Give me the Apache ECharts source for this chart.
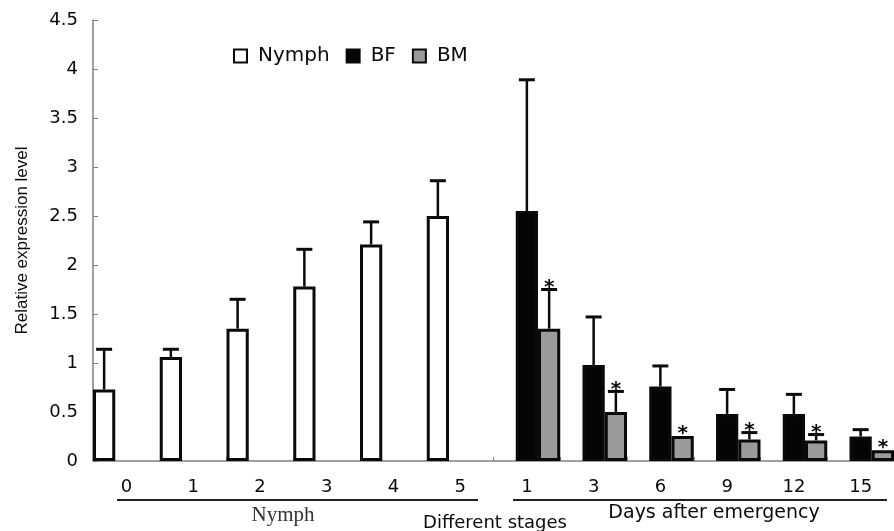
<!DOCTYPE html>
<html>
<head>
<meta charset="utf-8">
<title>Relative expression level</title>
<script src="https://cdn.jsdelivr.net/npm/echarts@6/dist/echarts.min.js"></script>
<style>
  html, body { margin: 0; padding: 0; background: #fff; }
  #chart { width: 894px; height: 531px; }
</style>
</head>
<body>
<div id="chart"></div>
<script>
// x axis labels: nymph stages, then days after emergency
var nymphStages = ['0', '1', '2', '3', '4', '5'];
var adultDays = ['1', '3', '6', '9', '12', '15'];
var categories = nymphStages.concat(adultDays);

// mean relative expression
var nymphMean = [0.73, 1.06, 1.35, 1.78, 2.21, 2.50];
var bfMean = [2.55, 0.98, 0.76, 0.48, 0.48, 0.25];
var bmMean = [1.35, 0.50, 0.255, 0.22, 0.21, 0.11];
// upper error bars (SD)
var nymphSd = [0.41, 0.08, 0.30, 0.38, 0.23, 0.36];
var bfSd = [1.34, 0.49, 0.21, 0.25, 0.20, 0.07];
var bmSd = [0.40, 0.21, 0, 0.07, 0.06, 0];
// * marks (BM vs BF)
var bmStar = [1, 1, 1, 1, 1, 1];

var yMax = 4.5;
var yStep = 0.5;

var sans = '"DejaVu Sans", sans-serif';
var ink = '#0a0a0a';

function blanks(n) {
  var a = [];
  for (var i = 0; i < n; i++) a.push('-');
  return a;
}

// error bar + star, slot = position of the bar inside the category (0,1,2)
function errorSeries(means, sds, stars, start, slot) {
  var data = [];
  for (var i = 0; i < means.length; i++) {
    data.push([start + i, means[i], sds[i], stars ? stars[i] : 0]);
  }
  return {
    type: 'custom',
    silent: true,
    z: 5,
    data: data,
    renderItem: function (params, api) {
      var cat = api.value(0), mean = api.value(1), sd = api.value(2), star = api.value(3);
      var slotW = api.size([1, 0])[0] / 3;
      var p = api.coord([cat, mean]);
      var x = p[0] + (slot - 1) * slotW;
      var top = api.coord([cat, mean + sd])[1];
      var kids = [];
      if (sd > 0) {
        kids.push({ type: 'line', shape: { x1: x, y1: p[1], x2: x, y2: top }, style: { stroke: ink, lineWidth: 2.5 } });
        kids.push({ type: 'line', shape: { x1: x - 8, y1: top, x2: x + 8, y2: top }, style: { stroke: ink, lineWidth: 3 } });
      }
      if (star) {
        kids.push({ type: 'text', style: { x: x, y: top - 2, text: '*', fontSize: 20, fontWeight: 'bold', fontFamily: sans, fill: ink, align: 'center', verticalAlign: 'middle' } });
      }
      return { type: 'group', children: kids };
    }
  };
}

var chart = echarts.init(document.getElementById('chart'));
chart.setOption({
  backgroundColor: '#fff',
  animation: false,
  grid: { left: 93, right: -10, top: 20, bottom: 70 },
  legend: {
    data: ['Nymph', 'BF', 'BM'],
    left: 228,
    top: 41,
    icon: 'rect',
    itemWidth: 13,
    itemHeight: 13,
    itemGap: 16,
    textStyle: { fontFamily: sans, fontSize: 20, color: ink, padding: [0, 0, 0, 6] }
  },
  xAxis: {
    type: 'category',
    data: categories,
    axisLine: { lineStyle: { color: '#808080', width: 1.5 } },
    axisTick: { show: true, inside: true, length: 4, lineStyle: { color: '#808080' } },
    axisLabel: { fontFamily: sans, fontSize: 18, color: ink, margin: 17, interval: 0 }
  },
  yAxis: {
    type: 'value',
    min: 0,
    max: yMax,
    interval: yStep,
    name: 'Relative expression level',
    nameLocation: 'middle',
    nameGap: 62,
    nameTextStyle: { fontFamily: '"Liberation Sans", Arial, sans-serif', fontSize: 17, color: ink },
    splitLine: { show: false },
    axisLine: { show: true, lineStyle: { color: '#808080', width: 1.5 } },
    axisTick: { show: true, inside: true, length: 5, lineStyle: { color: '#808080' } },
    axisLabel: { fontFamily: sans, fontSize: 18, color: ink, margin: 15 }
  },
  series: [
    {
      name: 'Nymph', type: 'bar', barGap: '0%', barCategoryGap: '0%',
      itemStyle: { color: '#fff', borderColor: ink, borderWidth: 3 },
      data: nymphMean.concat(blanks(adultDays.length))
    },
    {
      name: 'BF', type: 'bar', barGap: '0%', barCategoryGap: '0%',
      itemStyle: { color: '#050505', borderColor: ink, borderWidth: 3 },
      data: blanks(nymphStages.length).concat(bfMean)
    },
    {
      name: 'BM', type: 'bar', barGap: '0%', barCategoryGap: '0%',
      itemStyle: { color: '#9a9a9a', borderColor: ink, borderWidth: 3 },
      data: blanks(nymphStages.length).concat(bmMean)
    },
    errorSeries(nymphMean, nymphSd, null, 0, 0),
    errorSeries(bfMean, bfSd, null, nymphStages.length, 1),
    errorSeries(bmMean, bmSd, bmStar, nymphStages.length, 2)
  ],
  graphic: [
    { type: 'line', shape: { x1: 117, y1: 500, x2: 478, y2: 500 }, style: { stroke: '#222', lineWidth: 2 } },
    { type: 'line', shape: { x1: 513, y1: 500, x2: 887, y2: 500 }, style: { stroke: '#222', lineWidth: 2 } },
    { type: 'text', x: 283, y: 515, style: { text: 'Nymph', fontFamily: '"Liberation Serif", serif', fontSize: 21, fill: '#333', align: 'center', verticalAlign: 'middle' } },
    { type: 'text', x: 495, y: 523, style: { text: 'Different stages', fontFamily: sans, fontSize: 18, fill: ink, align: 'center', verticalAlign: 'middle' } },
    { type: 'text', x: 714, y: 513, style: { text: 'Days after emergency', fontFamily: sans, fontSize: 19, fill: ink, align: 'center', verticalAlign: 'middle' } }
  ]
});
</script>
</body>
</html>
